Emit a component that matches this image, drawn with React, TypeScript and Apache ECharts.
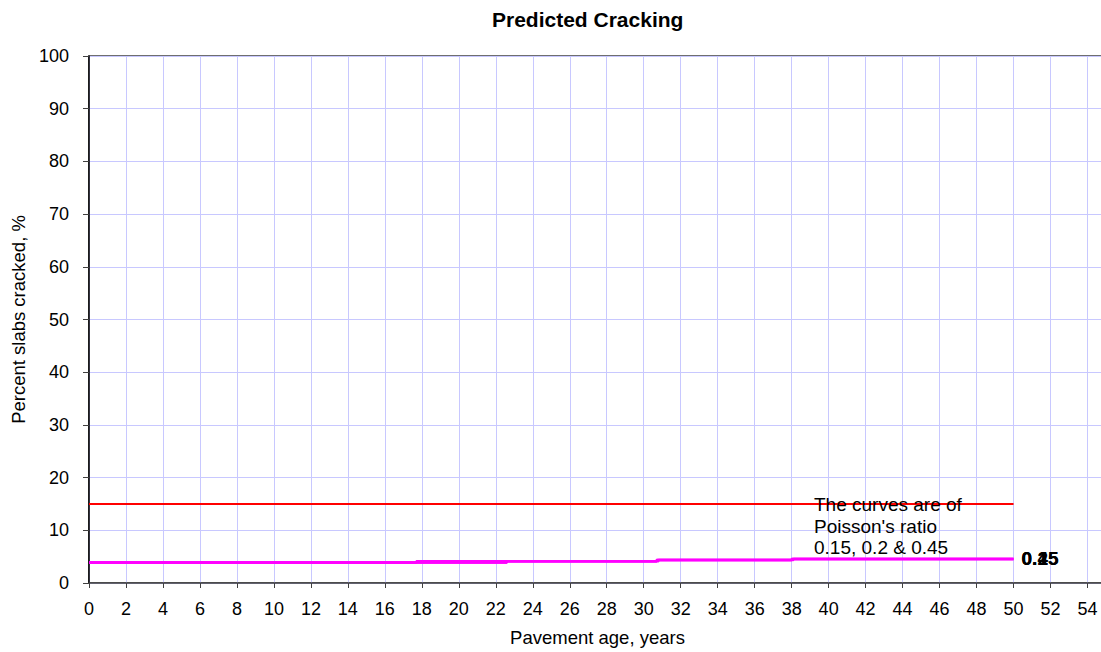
import React, { useEffect, useRef } from "react";
import * as echarts from "echarts";

const chartTitle = "Predicted Cracking";
const xAxisName = "Pavement age, years";
const yAxisName = "Percent slabs cracked, %";
const noteText = "The curves are of\nPoisson's ratio\n0.15, 0.2 & 0.45";

// Limit line (red)
const limitYears = [0, 50];
const limitValues = [15, 15];

// Poisson's ratio curves (magenta), values at years where they change
const years045 = [0, 17.7, 30.7, 38.0, 50];
const values045 = [3.9, 4.15, 4.35, 4.55, 4.58];
const years02 = [0, 22.6, 30.7, 38.0, 50];
const values02 = [3.9, 4.15, 4.35, 4.55, 4.58];
const years015 = [0, 22.6, 30.8, 38.1, 50];
const values015 = [3.9, 4.15, 4.35, 4.55, 4.58];

const zip = (xs: number[], ys: number[]) => xs.map((x, i) => [x, ys[i]]);

const FONT = "Arial, 'Liberation Sans', sans-serif";

export default function App() {
  const ref = useRef<HTMLDivElement>(null);
  useEffect(() => {
    if (!ref.current) return;
    const chart = echarts.init(ref.current, undefined, { renderer: "svg" });
    const curve = (name: string, xs: number[], ys: number[]) => ({
      type: "line",
      name,
      data: zip(xs, ys),
      step: "end",
      symbol: "none",
      lineStyle: { color: "#ff00ff", width: 2.5 },
      endLabel: {
        show: true,
        formatter: name,
        fontFamily: FONT,
        fontSize: 19,
        fontWeight: "bold",
        color: "#000",
        distance: 8,
      },
      z: 3,
    });
    chart.setOption({
      animation: false,
      backgroundColor: "#fff",
      textStyle: { fontFamily: FONT },
      title: {
        text: chartTitle,
        left: 487,
        top: 4,
        textStyle: { fontFamily: FONT, fontSize: 21, fontWeight: "bold", color: "#000" },
      },
      grid: {
        left: 89,
        right: 0,
        top: 56,
        bottom: 68.5,
        show: true,
        borderColor: "#404040",
        borderWidth: 1.5,
        backgroundColor: "transparent",
      },
      xAxis: {
        type: "value",
        min: 0,
        max: 55,
        interval: 2,
        name: xAxisName,
        nameLocation: "middle",
        nameGap: 45,
        nameTextStyle: { fontFamily: FONT, fontSize: 18.5, color: "#000" },
        axisLine: { show: true, onZero: false, lineStyle: { color: "#404040", width: 1.5 } },
        axisTick: { show: true, length: 5, lineStyle: { color: "#404040" } },
        axisLabel: {
          fontFamily: FONT,
          fontSize: 18,
          color: "#000",
          margin: 17,
          showMaxLabel: false,
          formatter: (v: number) => (v % 2 === 0 ? String(v) : ""),
        },
        splitLine: { show: true, lineStyle: { color: "#c8c8ff", width: 1 } },
      },
      yAxis: {
        type: "value",
        min: 0,
        max: 100,
        interval: 10,
        name: yAxisName,
        nameLocation: "middle",
        nameGap: 60,
        nameTextStyle: { fontFamily: FONT, fontSize: 18.5, color: "#000" },
        axisLine: { show: true, onZero: false, lineStyle: { color: "#000", width: 1.5 } },
        axisTick: { show: true, length: 6, lineStyle: { color: "#404040" } },
        axisLabel: { fontFamily: FONT, fontSize: 18, color: "#000", margin: 20 },
        splitLine: { show: true, lineStyle: { color: "#c8c8ff", width: 1 } },
      },
      series: [
        {
          type: "line",
          name: "Limit",
          data: zip(limitYears, limitValues),
          symbol: "none",
          lineStyle: { color: "#ff0000", width: 2 },
          z: 2,
        },
        curve("0.15", years015, values015),
        curve("0.2", years02, values02),
        curve("0.45", years045, values045),
      ],
      graphic: [
        {
          type: "text",
          left: 814,
          top: 494,
          z: 10,
          style: {
            text: noteText,
            fontFamily: FONT,
            fontSize: 19,
            lineHeight: 21.5,
            fill: "#000",
          },
        },
      ],
    });
    return () => chart.dispose();
  }, []);
  return (
    <div
      style={{
        position: "absolute",
        left: 0,
        top: 0,
        width: 1101,
        height: 652,
        overflow: "hidden",
      }}
    >
      <div ref={ref} style={{ width: 1106, height: 652 }} />
    </div>
  );
}
